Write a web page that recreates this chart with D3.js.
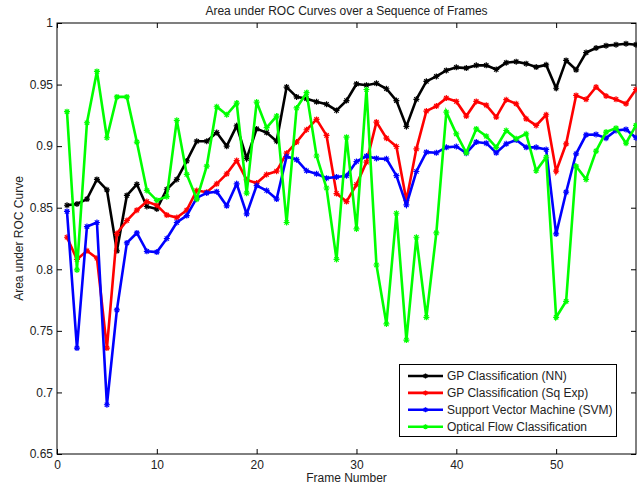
<!DOCTYPE html>
<html>
<head>
<meta charset="utf-8">
<script src="https://cdn.jsdelivr.net/npm/d3@7"></script>
<style>
  body { margin: 0; background: #fff; }
  svg text { font-family: "Liberation Sans", Arial, Helvetica, sans-serif; font-size: 12px; fill: #222; }
</style>
</head>
<body>
<div id="chart"></div>
<script>
// values, one per frame (1..58)
var frames = d3.range(1, 59)
var gpNN = [0.852,0.853,0.857,0.873,0.8645,0.815,0.860,0.869,0.851,0.849,0.865,0.873,0.888,0.904,0.904,0.911,0.900,0.9165,0.890,0.914,0.911,0.904,0.948,0.940,0.9385,0.936,0.934,0.929,0.937,0.9505,0.9495,0.951,0.9466,0.937,0.916,0.938,0.9526,0.9566,0.9615,0.964,0.9634,0.9656,0.9656,0.9623,0.9678,0.9686,0.967,0.9642,0.966,0.947,0.9696,0.962,0.976,0.9797,0.9816,0.9824,0.9832,0.9824]
var gpSqExp = [0.826,0.808,0.815,0.809,0.736,0.829,0.8396,0.848,0.855,0.852,0.844,0.842,0.848,0.864,0.8626,0.8694,0.8775,0.8883,0.8726,0.870,0.877,0.8797,0.8943,0.9033,0.9133,0.9217,0.9087,0.8615,0.855,0.8688,0.887,0.9195,0.9065,0.8997,0.8558,0.8978,0.9285,0.9325,0.939,0.9363,0.9244,0.9363,0.9333,0.9236,0.9377,0.9344,0.9222,0.9168,0.9255,0.8797,0.9019,0.9412,0.938,0.948,0.9407,0.938,0.9344,0.946]
var svm = [0.847,0.736,0.8347,0.838,0.690,0.767,0.8214,0.8295,0.8146,0.814,0.825,0.838,0.8436,0.858,0.862,0.863,0.8515,0.8694,0.845,0.868,0.864,0.857,0.8916,0.889,0.880,0.8775,0.874,0.875,0.876,0.8875,0.8919,0.890,0.8897,0.876,0.8523,0.8794,0.8951,0.8946,0.899,0.8997,0.8943,0.9033,0.9024,0.8946,0.9019,0.905,0.899,0.899,0.8973,0.8287,0.8626,0.8938,0.9092,0.9095,0.9065,0.9127,0.9136,0.9068]
var opticalFlow = [0.928,0.7995,0.919,0.9607,0.9068,0.940,0.940,0.9033,0.864,0.856,0.859,0.921,0.877,0.857,0.8837,0.932,0.9255,0.935,0.8618,0.9358,0.915,0.9244,0.838,0.931,0.9434,0.892,0.866,0.808,0.9073,0.8328,0.946,0.8035,0.7556,0.8455,0.7425,0.826,0.761,0.8295,0.9276,0.910,0.8946,0.914,0.9081,0.899,0.9127,0.906,0.910,0.880,0.891,0.761,0.774,0.8837,0.873,0.896,0.9114,0.9146,0.9024,0.9168]

var seriesNames = ["GP Classification (NN)", "GP Classification (Sq Exp)", "Support Vector Machine (SVM)", "Optical Flow Classification"]
var seriesValues = [gpNN, gpSqExp, svm, opticalFlow]
var seriesColors = ["#000000", "#ff0000", "#0000ff", "#00ff00"]

var xTicks = [0, 10, 20, 30, 40, 50]
var yTicks = [0.65, 0.7, 0.75, 0.8, 0.85, 0.9, 0.95, 1]

var W = 637, H = 488
var pLeft = 57, pRight = 636, pTop = 23, pBottom = 454

var svg = d3.select("#chart").append("svg").attr("width", W).attr("height", H)

var x = d3.scaleLinear().domain([0, 58]).range([pLeft, pRight])
var y = d3.scaleLinear().domain([0.65, 1]).range([pBottom, pTop])

// axes, matlab style: ticks pointing inward, box on
var fmt = function(d) { return String(+d.toFixed(2)) }
svg.append("g").attr("transform", "translate(0," + pBottom + ")")
  .call(d3.axisBottom(x).tickValues(xTicks).tickSizeInner(-5).tickSizeOuter(0).tickPadding(6).tickFormat(fmt))
svg.append("g").attr("transform", "translate(0," + pTop + ")")
  .call(d3.axisTop(x).tickValues(xTicks).tickSizeInner(-5).tickSizeOuter(0).tickFormat(""))
svg.append("g").attr("transform", "translate(" + pLeft + ",0)")
  .call(d3.axisLeft(y).tickValues(yTicks).tickSizeInner(-5).tickSizeOuter(0).tickPadding(4).tickFormat(fmt))
svg.append("g").attr("transform", "translate(" + pRight + ",0)")
  .call(d3.axisRight(y).tickValues(yTicks).tickSizeInner(-5).tickSizeOuter(0).tickFormat(""))

svg.selectAll(".domain").remove()
svg.selectAll(".tick line").attr("stroke", "#000")
svg.selectAll(".tick text").style("font-size", "12px").attr("fill", "#222")

svg.append("rect")
  .attr("x", pLeft).attr("y", pTop)
  .attr("width", pRight - pLeft).attr("height", pBottom - pTop)
  .attr("fill", "none").attr("stroke", "#000").attr("stroke-width", 1)

// series
var line = d3.line()
  .x(function(d, i) { return x(frames[i]) })
  .y(function(d) { return y(d) })

function star(cx, cy, r) {
  var k = r * 0.72
  return "M" + (cx - r) + "," + cy + "H" + (cx + r) +
    "M" + cx + "," + (cy - r) + "V" + (cy + r) +
    "M" + (cx - k) + "," + (cy - k) + "L" + (cx + k) + "," + (cy + k) +
    "M" + (cx - k) + "," + (cy + k) + "L" + (cx + k) + "," + (cy - k)
}

var plot = svg.append("g")
seriesValues.forEach(function(vals, s) {
  plot.append("path")
    .datum(vals)
    .attr("d", line)
    .attr("fill", "none")
    .attr("stroke", seriesColors[s])
    .attr("stroke-width", 2.6)
    .attr("stroke-linejoin", "miter")
  plot.selectAll(".m" + s).data(vals).enter().append("path")
    .attr("class", "m" + s)
    .attr("d", function(d, i) { return star(x(frames[i]), y(d), 3) })
    .attr("stroke", seriesColors[s])
    .attr("stroke-width", 1.2)
})

// legend
var lg = svg.append("g")
lg.append("rect")
  .attr("x", 399.5).attr("y", 364.5).attr("width", 217).attr("height", 72)
  .attr("fill", "#fff").attr("stroke", "#000").attr("stroke-width", 1)
seriesNames.forEach(function(name, s) {
  var ly = 376 + s * 16.9
  lg.append("line")
    .attr("x1", 408).attr("x2", 443).attr("y1", ly).attr("y2", ly)
    .attr("stroke", seriesColors[s]).attr("stroke-width", 2.6)
  lg.append("path").attr("d", star(425.5, ly, 2.5))
    .attr("stroke", seriesColors[s]).attr("stroke-width", 1.2)
  lg.append("text")
    .attr("x", 447).attr("y", ly).attr("dy", "0.35em")
    .text(name)
})

// titles
svg.append("text")
  .attr("x", (pLeft + pRight) / 2).attr("y", 15)
  .attr("text-anchor", "middle")
  .text("Area under ROC Curves over a Sequence of Frames")
svg.append("text")
  .attr("x", (pLeft + pRight) / 2).attr("y", 482)
  .attr("text-anchor", "middle")
  .text("Frame Number")
svg.append("text")
  .attr("transform", "translate(23," + (pTop + pBottom) / 2 + ") rotate(-90)")
  .attr("text-anchor", "middle")
  .text("Area under ROC Curve")
</script>
</body>
</html>
